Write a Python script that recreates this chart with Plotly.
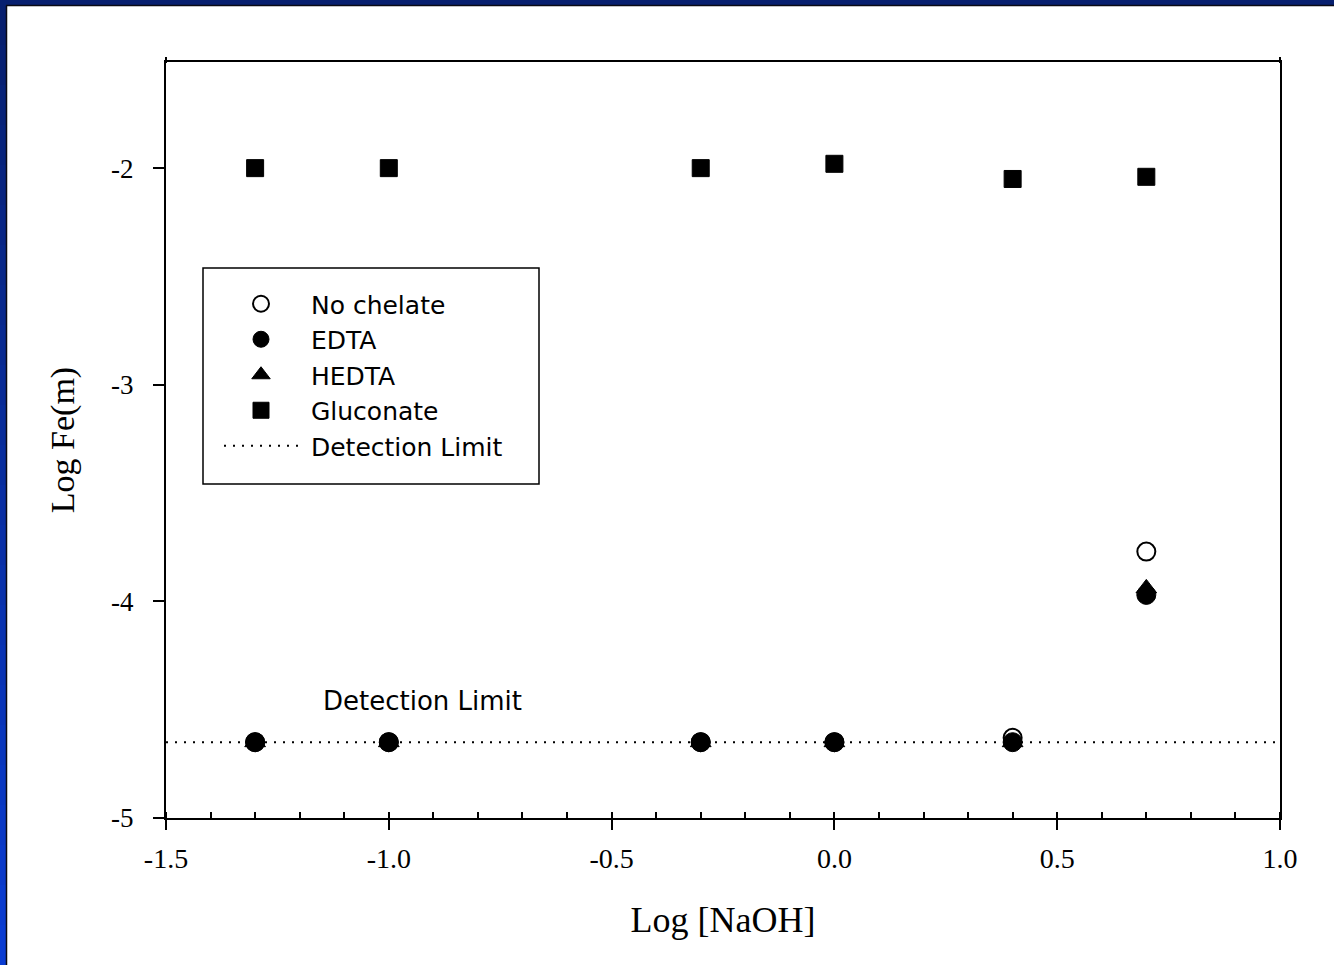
import plotly.graph_objects as go

# Iron solubility vs. caustic concentration for several chelating agents
log_naoh = [-1.3, -1.0, -0.3, 0.0, 0.4, 0.7]
no_chelate = [-4.65, -4.65, -4.65, -4.65, -4.63, -3.77]
edta = [-4.65, -4.65, -4.65, -4.65, -4.65, -3.97]
hedta = [-4.65, -4.65, -4.65, -4.65, -4.65, -3.94]
gluconate = [-2.00, -2.00, -2.00, -1.98, -2.05, -2.04]

detection_x = [-1.5, 1.0]
detection_y = [-4.65, -4.65]

x_ticks = [-1.5, -1.0, -0.5, 0.0, 0.5, 1.0]
x_tick_text = ["-1.5", "-1.0", "-0.5", "0.0", "0.5", "1.0"]
y_ticks = [-5, -4, -3, -2]
y_tick_text = ["-5", "-4", "-3", "-2"]

SERIF = "Liberation Serif, Times New Roman, serif"
SANS = "DejaVu Sans, Arial, sans-serif"
PAD = "\u00a0"  # small gap between legend symbol and label

fig = go.Figure()

fig.add_trace(go.Scatter(
    x=detection_x, y=detection_y, mode="lines", name=PAD + "Detection Limit",
    line=dict(color="black", width=2, dash="2px,7px"), legendrank=5,
))
fig.add_trace(go.Scatter(
    x=log_naoh, y=no_chelate, mode="markers", name=PAD + "No chelate",
    marker=dict(symbol="circle", size=18, color="white",
                line=dict(color="black", width=2)), legendrank=1,
))
fig.add_trace(go.Scatter(
    x=log_naoh, y=edta, mode="markers", name=PAD + "EDTA",
    marker=dict(symbol="circle", size=19, color="black",
                line=dict(color="black", width=1)), legendrank=2,
))
fig.add_trace(go.Scatter(
    x=log_naoh, y=hedta, mode="markers", name=PAD + "HEDTA",
    marker=dict(symbol="triangle-up", size=18, color="black",
                line=dict(color="black", width=1)), legendrank=3,
))
fig.add_trace(go.Scatter(
    x=log_naoh, y=gluconate, mode="markers", name=PAD + "Gluconate",
    marker=dict(symbol="square", size=17, color="black",
                line=dict(color="black", width=1)), legendrank=4,
))

# Slide frame: navy band along the top, blue band down the left side
W, H = 1334, 965
L, R, T, B = 166, 54, 62, 147
pw, ph = W - L - R, H - T - B


def px_x(p):
    return (p - L) / pw


def px_y(p):
    return (H - B - p) / ph


shapes = []
shapes.append(dict(type="rect", xref="paper", yref="paper",
                   x0=px_x(0), x1=px_x(W), y0=px_y(0), y1=px_y(5),
                   fillcolor="#071f6f", line=dict(width=0), layer="below"))
n_seg = 24
top_rgb = (7, 31, 111)
bot_rgb = (10, 60, 210)
for i in range(n_seg):
    f = i / (n_seg - 1)
    c = tuple(round(a + (b - a) * f) for a, b in zip(top_rgb, bot_rgb))
    y0p = 5 + (H - 5) * i / n_seg
    y1p = 5 + (H - 5) * (i + 1) / n_seg
    shapes.append(dict(type="rect", xref="paper", yref="paper",
                       x0=px_x(0), x1=px_x(6), y0=px_y(y1p + 1), y1=px_y(y0p),
                       fillcolor="rgb(%d,%d,%d)" % c, line=dict(width=0),
                       layer="below"))
# dark rule inside the frame
shapes.append(dict(type="line", xref="paper", yref="paper",
                   x0=px_x(6.5), x1=px_x(6.5), y0=px_y(H), y1=px_y(5.5),
                   line=dict(color="#0a0a14", width=1.5), layer="below"))
shapes.append(dict(type="line", xref="paper", yref="paper",
                   x0=px_x(6), x1=px_x(W), y0=px_y(5.5), y1=px_y(5.5),
                   line=dict(color="#0a0a14", width=1.5), layer="below"))
# legend box outline
shapes.append(dict(type="rect", xref="paper", yref="paper",
                   x0=px_x(203), x1=px_x(539), y0=px_y(484), y1=px_y(268),
                   fillcolor="rgba(0,0,0,0)", line=dict(color="black", width=1.5),
                   layer="above"))
# left/right axis lines run a little past the top border
for xp in (166, 1280):
    shapes.append(dict(type="line", xref="paper", yref="paper",
                       x0=px_x(xp), x1=px_x(xp), y0=px_y(63), y1=px_y(57),
                       line=dict(color="black", width=2), layer="above"))

fig.update_layout(
    width=W, height=H,
    margin=dict(l=L, r=R, t=T, b=B, pad=0),
    paper_bgcolor="white", plot_bgcolor="white",
    showlegend=True,
    legend=dict(
        x=px_x(219), y=px_y(281), xanchor="left", yanchor="top",
        bgcolor="rgba(0,0,0,0)", borderwidth=0,
        font=dict(family=SANS, size=25, color="black"),
        itemwidth=74, tracegroupgap=0,
    ),
    shapes=shapes,
    annotations=[dict(
        x=-1.1525, y=-4.46, xref="x", yref="y", text="Detection Limit",
        showarrow=False, xanchor="left", yanchor="middle",
        font=dict(family=SANS, size=26, color="black"),
    )],
    xaxis=dict(
        range=[-1.5, 1.0], tickvals=x_ticks, ticktext=x_tick_text,
        showgrid=False, zeroline=False,
        showline=True, linecolor="black", linewidth=2, mirror=True,
        ticks="outside", ticklen=10, tickwidth=2, tickcolor="black",
        minor=dict(dtick=0.1, ticks="inside", ticklen=6, tickwidth=2,
                   tickcolor="black", showgrid=False),
        tickfont=dict(family=SERIF, size=28, color="black"),
        ticklabelstandoff=4,
        title=dict(text="Log [NaOH]", font=dict(family=SERIF, size=36, color="black"),
                   standoff=34),
    ),
    xaxis2=dict(
        range=[-1.5, 1.0], overlaying="x", side="top", anchor="y",
        showgrid=False, zeroline=False, showline=False,
        showticklabels=False, ticks="", tickvals=x_ticks,
        minor=dict(dtick=0.1, ticks="inside", ticklen=6, tickwidth=2,
                   tickcolor="black", showgrid=False),
    ),
    yaxis=dict(
        range=[-5, -1.51], tickvals=y_ticks, ticktext=y_tick_text,
        showgrid=False, zeroline=False,
        showline=True, linecolor="black", linewidth=2, mirror=True,
        ticks="outside", ticklen=11, tickwidth=2, tickcolor="black",
        tickfont=dict(family=SERIF, size=27, color="black"),
        ticklabelstandoff=14,
        title=dict(text="Log Fe(m)", font=dict(family=SERIF, size=34, color="black"),
                   standoff=26),
    ),
)

fig.write_html("out.html")
